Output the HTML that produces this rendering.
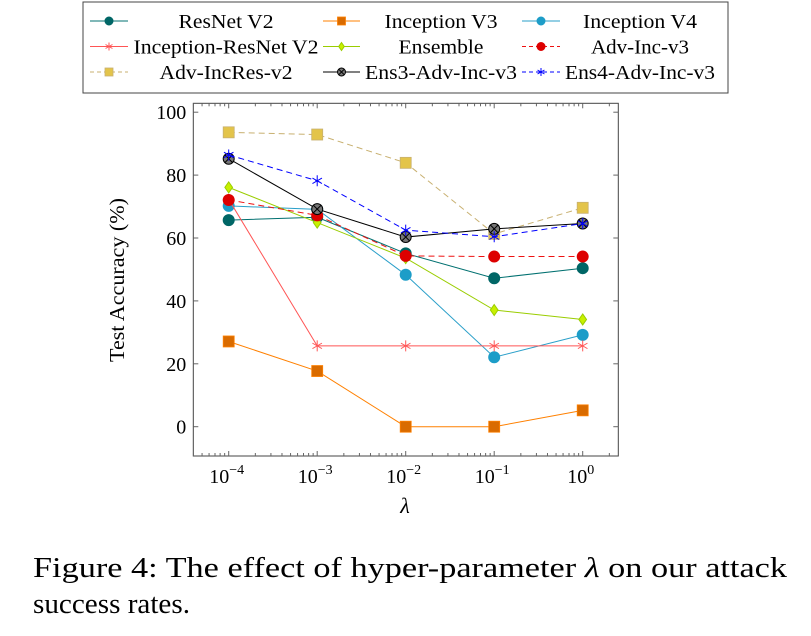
<!DOCTYPE html>
<html><head><meta charset="utf-8"><style>
body{margin:0;background:#fff;width:811px;height:631px;overflow:hidden}
svg{font-family:"Liberation Serif",serif}
</style></head><body>
<svg id="c" width="811" height="631" xmlns="http://www.w3.org/2000/svg"></svg>
<script>
const categories=[-4,-3,-2,-1,0];
const seriesNames=["ResNet V2","Inception V3","Inception V4","Inception-ResNet V2","Ensemble","Adv-Inc-v3","Adv-IncRes-v2","Ens3-Adv-Inc-v3","Ens4-Adv-Inc-v3"];
const resnetV2=[65.7,66.6,55.1,47.2,50.4];
const inceptionV3=[27.1,17.7,0,0,5.2];
const inceptionV4=[70.2,69.1,48.3,22.1,29.2];
const incResV2=[72.3,25.7,25.7,25.7,25.7];
const ensemble=[76.1,64.9,53.6,37.1,34.1];
const advIncV3=[72.1,67.2,54.3,54.1,54.1];
const advIncResV2=[93.6,92.9,83.9,61.3,69.6];
const ens3=[85.2,69.2,60.3,62.9,64.6];
const ens4=[86.4,78.2,62.5,60.4,64.6];
const yTicks=[0,20,40,60,80,100];
const xTickLabels=["−4","−3","−2","−1","0"];

const NS="http://www.w3.org/2000/svg",svg=document.getElementById('c');
function el(t,a,p){const e=document.createElementNS(NS,t);for(const k in a)e.setAttribute(k,a[k]);(p||svg).appendChild(e);return e;}
const X0=193.3,X1=618.3,Y0=103.3,Y1=456;
const xs=v=>228.7+(v+4)*88.5;
const ys=v=>426.7-v*3.145;

const frame=el('rect',{x:X0,y:Y0,width:X1-X0,height:Y1-Y0,fill:'none',stroke:'#444','stroke-width':1});

yTicks.forEach(t=>{
  const y=ys(t);
  el('line',{x1:X0,x2:X0+5,y1:y,y2:y,stroke:'#666'});
  el('line',{x1:X1-5,x2:X1,y1:y,y2:y,stroke:'#666'});
  const tx=el('text',{x:X0-7,y:y+7,'text-anchor':'end','font-size':20});tx.textContent=t;
  
});
for(let d=-5;d<=0;d++){
  for(let m=1;m<=9;m++){
    const v=d+Math.log10(m);if(v<-4.45||v>0.4)continue;
    const x=xs(v),len=m==1?5:3;
    el('line',{x1:x,x2:x,y1:Y1,y2:Y1-len,stroke:'#666'});
    el('line',{x1:x,x2:x,y1:Y0,y2:Y0+len,stroke:'#666'});
  }
}
categories.forEach((c,i)=>{
  const t=el('text',{x:xs(c)-2,y:483,'text-anchor':'middle','font-size':20});
  t.innerHTML='10<tspan dy="-9" font-size="14">'+xTickLabels[i]+'</tspan>';
  
});
const yl=el('text',{x:0,y:0,transform:'translate(124,280) rotate(-90)','text-anchor':'middle','font-size':21,textLength:164,lengthAdjust:'spacingAndGlyphs'});yl.textContent='Test Accuracy (%)';

const xl=el('text',{x:405,y:513,'text-anchor':'middle','font-size':22,'font-style':'italic'});xl.textContent='λ';


const styles=[
 {d:resnetV2,c:'#007070',f:'#006666',m:'circle',dash:''},
 {d:inceptionV3,c:'#ff8000',f:'#d96b00',m:'square',dash:''},
 {d:inceptionV4,c:'#2a9fc9',f:'#1d9dc8',m:'circle',dash:''},
 {d:incResV2,c:'#ff5555',f:'#ff5555',m:'star',dash:''},
 {d:ensemble,c:'#9acd00',f:'#c8f000',m:'diamond',dash:''},
 {d:advIncV3,c:'#ee1111',f:'#dd0000',m:'circle',dash:'6,4'},
 {d:advIncResV2,c:'#c8b070',f:'#e3c44a',m:'square',dash:'6,4'},
 {d:ens3,c:'#000',f:'#777',m:'otimes',dash:''},
 {d:ens4,c:'#0000ff',f:'#0000ff',m:'star',dash:'6,4'}
];
function marker(g,m,x,y,s,big){
  const r=big?5.5:4;
  if(m=='circle')el('circle',{cx:x,cy:y,r:r,fill:s.f,stroke:s.f},g);
  else if(m=='square')el('rect',{x:x-r,y:y-r,width:2*r,height:2*r,fill:s.f,stroke:s.c,'stroke-width':0.8},g);
  else if(m=='diamond')el('polygon',{points:`${x},${y-r} ${x+r*0.7},${y} ${x},${y+r} ${x-r*0.7},${y}`,fill:s.f,stroke:s.c},g);
  else if(m=='star'){for(let a=0;a<6;a++){const an=Math.PI/2+a*Math.PI/3;el('line',{x1:x,y1:y,x2:x+Math.cos(an)*r,y2:y-Math.sin(an)*r,stroke:s.c},g);}}
  else if(m=='otimes'){el('circle',{cx:x,cy:y,r:r,fill:s.f,stroke:'#000'},g);const q=r*0.7;
    el('line',{x1:x-q,y1:y-q,x2:x+q,y2:y+q,stroke:'#000'},g);el('line',{x1:x-q,y1:y+q,x2:x+q,y2:y-q,stroke:'#000'},g);}
}
styles.forEach((s,i)=>{
  const g=el('g',{});
  
  
  el('polyline',{points:s.d.map((v,j)=>xs(categories[j])+','+ys(v)).join(' '),fill:'none',stroke:s.c,'stroke-width':1,'stroke-dasharray':s.dash},g);
  s.d.forEach((v,j)=>marker(g,s.m,xs(categories[j]),ys(v),s,true));
});
// legend
const lg=el('g',{});

el('rect',{x:83,y:2,width:645,height:91,fill:'#fff',stroke:'#444'},lg);
const cols=[[90,128],[323,360],[522,560]];
const textCenters=[226,441,640];
const textLens=[95,113,114,185,85,98,133,152,150];
styles.forEach((s,i)=>{
  const r=Math.floor(i/3),c=i%3,y=21+r*25.5;
  const [a,b]=cols[c];
  const e=el('g',{},lg);
  
  el('line',{x1:a,x2:b,y1:y,y2:y,stroke:s.c,'stroke-dasharray':s.dash?'4,3':''},e);
  marker(e,s.m,(a+b)/2,y,s,false);
  const t=el('text',{x:textCenters[c],y:y+7,'text-anchor':'middle','font-size':20,textLength:textLens[i],lengthAdjust:'spacingAndGlyphs'},e);t.textContent=seriesNames[i];
});
// caption
const c1=el('text',{x:33,y:577,'font-size':29,textLength:754,lengthAdjust:'spacingAndGlyphs'});c1.innerHTML='Figure 4:  The effect of hyper-parameter <tspan font-style="italic">λ</tspan> on our attack';

const c2=el('text',{x:33,y:613,'font-size':29,textLength:157,lengthAdjust:'spacingAndGlyphs'});c2.textContent='success rates.';

</script>
</body></html>
